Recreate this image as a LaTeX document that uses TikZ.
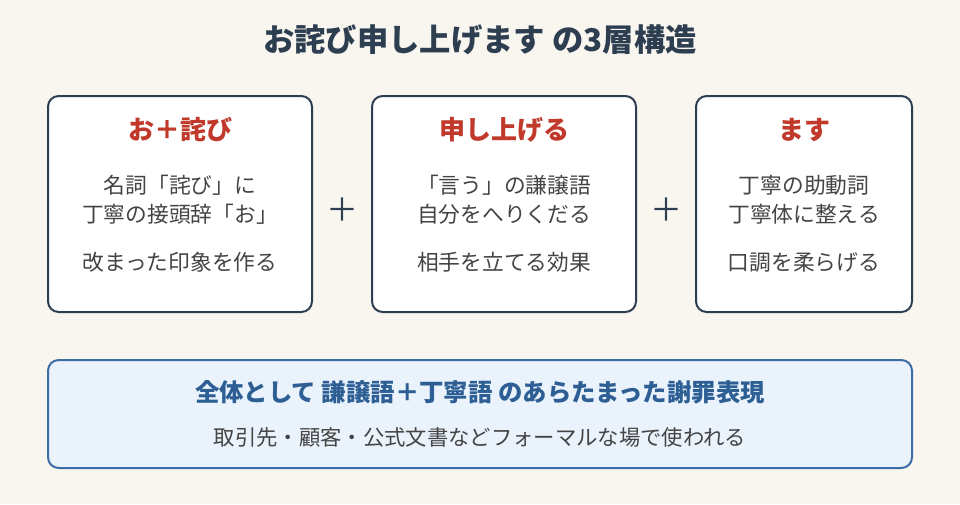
\documentclass[tikz,border=0pt]{standalone}
\usepackage{fontspec}
\setmainfont{Noto Sans CJK JP}
\usetikzlibrary{positioning}
\definecolor{bgpaper}{HTML}{F9F6F0}
\definecolor{inkdark}{HTML}{2C3E50}
\definecolor{redhead}{HTML}{C0392B}
\definecolor{greytext}{HTML}{444444}
\definecolor{bluefill}{HTML}{EAF2FC}
\definecolor{blueline}{HTML}{3B6EA8}
\definecolor{bluetext}{HTML}{2D5F94}
\tikzset{
	every node/.style={
		align=center,
	},
	part/.style={draw=inkdark, line width=1.5pt, fill=white, rounded corners=8pt,
		minimum width=264*0.75pt, minimum height=216*0.75pt, inner sep=0pt},
	head/.style={text=redhead, font=\fontsize{19.5}{22}\selectfont\bfseries},
	line/.style={text=greytext, font=\fontsize{16.3}{18}\selectfont},
	plus/.style={text=inkdark, font=\fontsize{24}{26}\selectfont},
}
\begin{document}
\begin{tikzpicture}[x=0.75pt, y=-0.75pt]
    \fill[bgpaper] (0,0) rectangle (960,504);
    \useasboundingbox (0,0) rectangle (960,504);
    \node[text=inkdark, font=\fontsize{23.5}{26}\selectfont\bfseries] (title) at (480,40) {お詫び申し上げます の3層構造};

    \node[part] (osa) at (180,204) {};
    \node[part] (moshi) at (504,204) {};
    \node[part, minimum width=216*0.75pt] (masu) at (804,204) {};

    \node[head] (osah) at (180,130) {お＋詫び};
    \node[line] (osa1) at (180,185) {名詞「詫び」に};
    \node[line, below=2.2em of osa1.center, anchor=center] (osa2) {丁寧の接頭辞「お」};
    \node[line] (osa3) at (180,262) {改まった印象を作る};

    \node[head] (moshih) at (504,130) {申し上げる};
    \node[line] (moshi1) at (504,185) {「言う」の謙譲語};
    \node[line, below=2.2em of moshi1.center, anchor=center] (moshi2) {自分をへりくだる};
    \node[line] (moshi3) at (504,262) {相手を立てる効果};

    \node[head] (masuh) at (804,130) {ます};
    \node[line] (masu1) at (804,185) {丁寧の助動詞};
    \node[line, below=2.2em of masu1.center, anchor=center] (masu2) {丁寧体に整える};
    \node[line] (masu3) at (804,262) {口調を柔らげる};

    \node[plus] (plusa) at (342,210) {＋};
    \node[plus] (plusb) at (666,210) {＋};

    \node[draw=blueline, line width=1.5pt, fill=bluefill, rounded corners=8pt,
          minimum width=864*0.75pt, minimum height=108*0.75pt] (whole) at (480,414) {};
    \node[text=bluetext, font=\fontsize{18.3}{20}\selectfont\bfseries] (wholeh) at (480,392) {全体として 謙譲語＋丁寧語 のあらたまった謝罪表現};
    \node[line, font=\fontsize{16}{18}\selectfont] (whole1) at (480,437) {取引先・顧客・公式文書などフォーマルな場で使われる};
\end{tikzpicture}
\end{document}
